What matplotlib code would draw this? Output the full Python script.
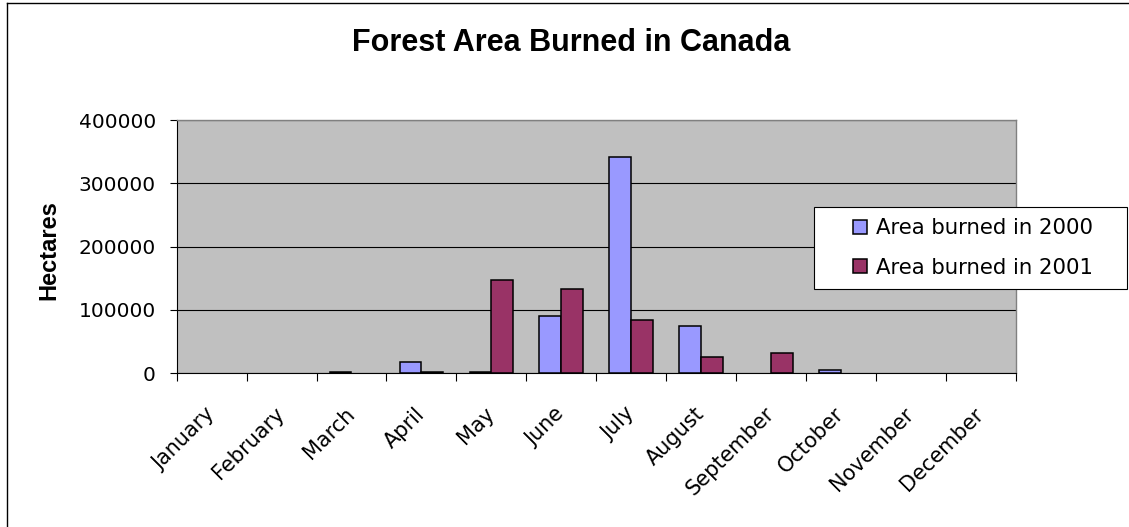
import matplotlib
matplotlib.use('Agg')
import matplotlib.pyplot as plt
import matplotlib.patches as mpatches
from matplotlib.lines import Line2D
import numpy as np

months = ['January', 'February', 'March', 'April', 'May', 'June', 'July',
          'August', 'September', 'October', 'November', 'December']
burned_2000 = [0, 0, 1500, 17500, 1500, 90500, 342000, 75000, 0, 5000, 0, 0]
burned_2001 = [0, 0, 0, 1500, 148000, 133000, 84000, 26500, 32500, 0, 0, 0]
yticks = [0, 100000, 200000, 300000, 400000]

COL_2000 = '#9999FF'
COL_2001 = '#993366'

W, H = 1129, 527
fig = plt.figure(figsize=(W / 100, H / 100), dpi=100)
fig.patch.set_facecolor('white')

# plot area in pixel coords of the reference
left, right, top, bottom = 176.7, 1015.5, 120.0, 373.3
ax = fig.add_axes([left / W, 1 - bottom / H, (right - left) / W, (bottom - top) / H])
ax.set_facecolor('#C0C0C0')

x = np.arange(len(months))
bw = 0.31
b1 = ax.bar(x + 0.5 - bw, burned_2000, width=bw, align='edge', color=COL_2000,
            edgecolor='black', linewidth=1.1, zorder=3)
b2 = ax.bar(x + 0.5, burned_2001, width=bw, align='edge', color=COL_2001,
            edgecolor='black', linewidth=1.1, zorder=3)
# empty months draw nothing
for p in list(b1) + list(b2):
    if p.get_height() == 0:
        p.set_visible(False)

ax.set_xlim(0, len(months))
ax.set_ylim(0, 400000)
ax.set_yticks(yticks)
ax.set_yticklabels([str(v) for v in yticks], fontsize=14.5, family='DejaVu Sans')
ax.yaxis.grid(True, color='black', linewidth=0.8, zorder=1)
ax.set_axisbelow(True)

# ticks at slot boundaries, labels at slot centres
ax.set_xticks(np.arange(len(months) + 1))
ax.set_xticklabels([])
ax.set_xticks(x + 0.5, minor=True)
ax.set_xticklabels(months, minor=True, rotation=45, ha='right', va='center',
                   rotation_mode='anchor', fontsize=15, family='DejaVu Sans')
ax.tick_params(axis='x', which='major', direction='out', length=5.5, width=0.8)
ax.tick_params(axis='x', which='minor', length=0, pad=27)
ax.tick_params(axis='y', direction='out', length=5, width=0.8, pad=10)

for s in ['top', 'right']:
    ax.spines[s].set_color('#808080')
    ax.spines[s].set_linewidth(1.0)
for s in ['left', 'bottom']:
    ax.spines[s].set_color('black')
    ax.spines[s].set_linewidth(0.8)

ax.set_ylabel('Hectares', fontsize=17, fontweight='bold', family='Liberation Sans',
              va='center')
ax.yaxis.set_label_coords((49 - left) / (right - left), (bottom - 250) / (bottom - top))

fig.text(571.5 / W, 1 - 50.7 / H, 'Forest Area Burned in Canada', ha='center',
         va='baseline', fontsize=22, fontweight='bold', family='Liberation Sans')

# legend: frame drawn separately so the entries sit centred in it
lx0, lx1, ly0, ly1 = 814, 1127, 207, 289
fig.patches.append(mpatches.Rectangle((lx0 / W, 1 - ly1 / H), (lx1 - lx0) / W,
                                      (ly1 - ly0) / H, transform=fig.transFigure,
                                      facecolor='white', edgecolor='black',
                                      linewidth=0.8, zorder=5))
handles = [mpatches.Patch(facecolor=COL_2000, edgecolor='black', linewidth=1.1),
           mpatches.Patch(facecolor=COL_2001, edgecolor='black', linewidth=1.1)]
labels = ['Area burned in 2000', 'Area burned in 2001']
leg = fig.legend(handles, labels, loc='center',
                 bbox_to_anchor=((lx0 + lx1) / 2 / W + 0.002, 1 - (ly0 + ly1) / 2 / H),
                 frameon=False, prop={'family': 'DejaVu Sans', 'size': 15.3},
                 handlelength=0.67, handleheight=0.67, handletextpad=0.4,
                 labelspacing=0.9, borderpad=0)
leg.set_zorder(6)

# outer chart border (only left and top edges are inside the picture)
fig.add_artist(Line2D([7 / W, 7 / W], [0, 1 - 3 / H], color='black', linewidth=1.0))
fig.add_artist(Line2D([7 / W, 1], [1 - 3 / H, 1 - 3 / H], color='black', linewidth=1.0))

fig.savefig('out.png', dpi=100)
